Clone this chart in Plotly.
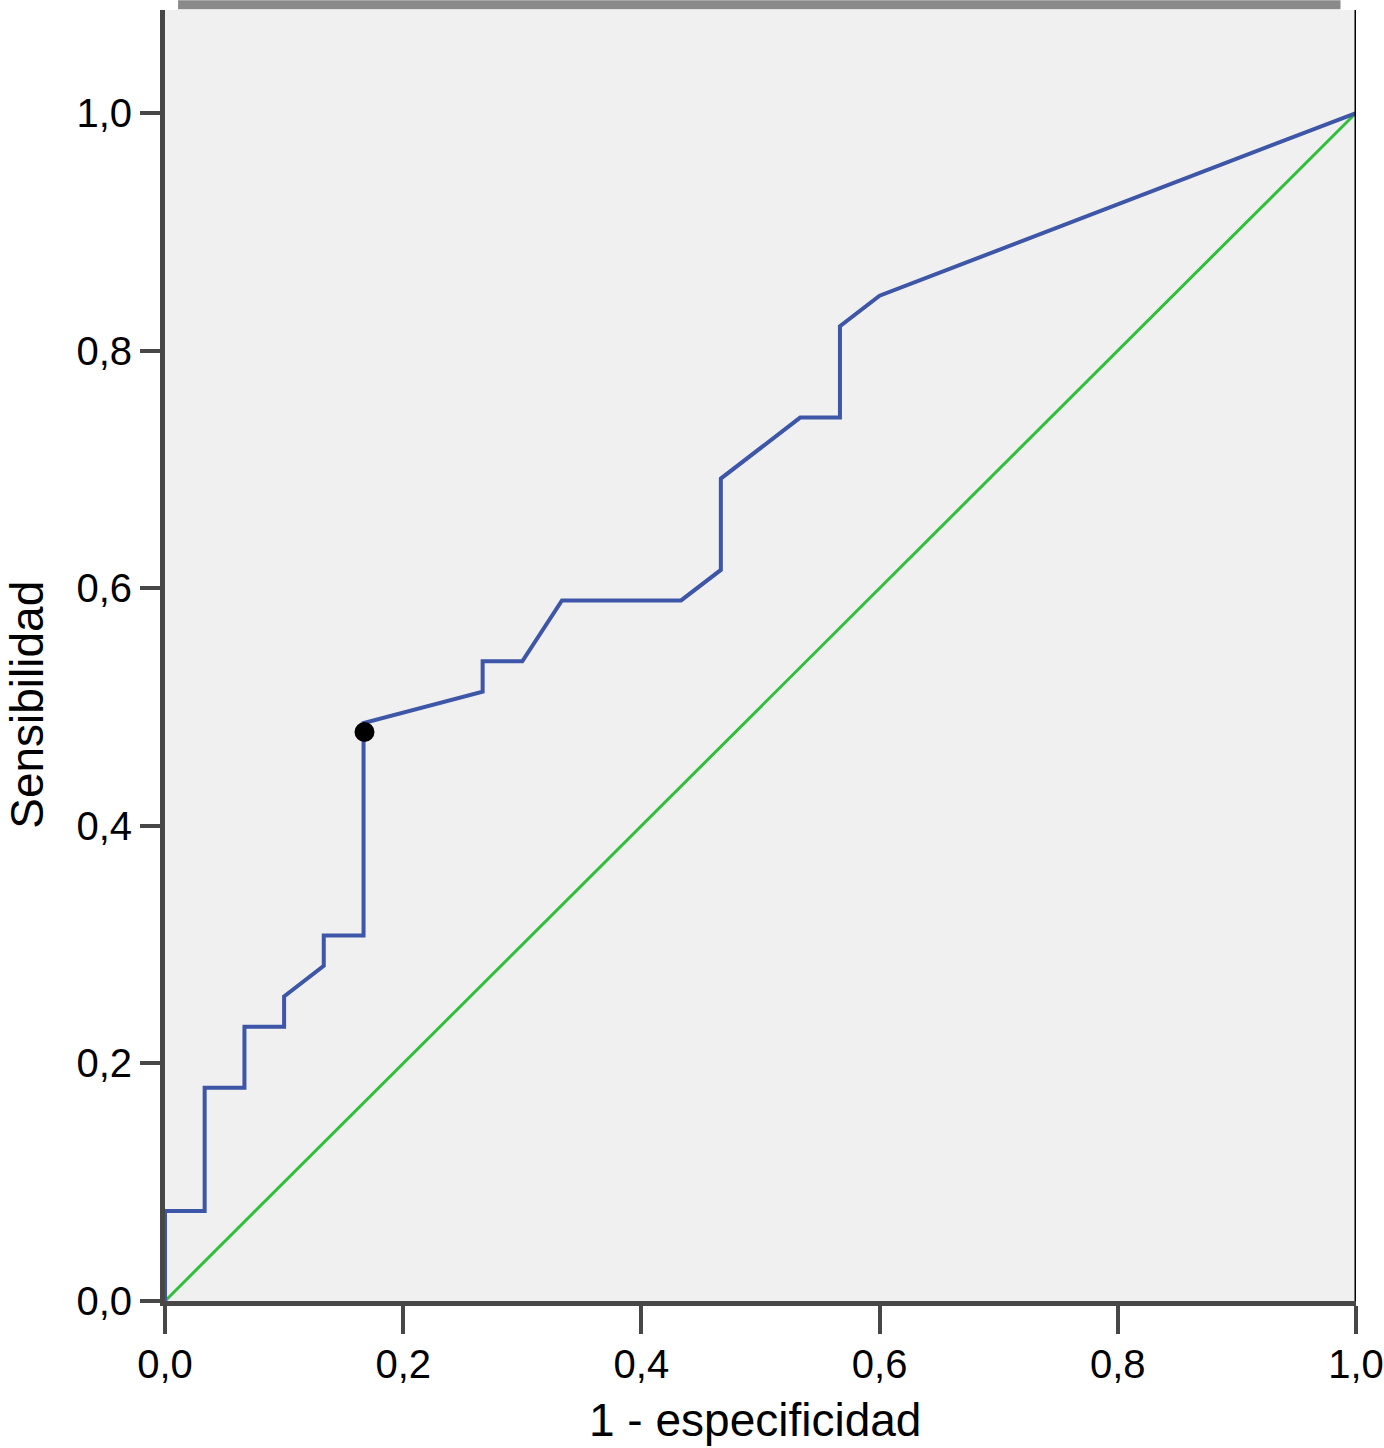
import plotly.graph_objects as go

# ROC curve points (1 - especificidad, sensibilidad)
roc_fpr = [0.0, 0.0, 0.0333, 0.0333, 0.0667, 0.0667, 0.1, 0.1, 0.1333, 0.1333,
           0.1667, 0.1667, 0.2667, 0.2667, 0.3, 0.3333, 0.4333, 0.4667, 0.4667,
           0.5333, 0.5667, 0.5667, 0.6, 1.0]
roc_tpr = [0.0, 0.0758, 0.0758, 0.1795, 0.1795, 0.2308, 0.2308, 0.2564, 0.2821, 0.3077,
           0.3077, 0.4865, 0.5128, 0.5385, 0.5385, 0.5897, 0.5897, 0.6154, 0.6923,
           0.7436, 0.7436, 0.8205, 0.8462, 1.0]

# Reference diagonal
ref_x = [0.0, 1.0]
ref_y = [0.0, 1.0]

# Optimal cut-off point
cut_x = [0.1675]
cut_y = [0.479]

tick_vals = [0.0, 0.2, 0.4, 0.6, 0.8, 1.0]

fig = go.Figure()
fig.add_trace(go.Scatter(x=ref_x, y=ref_y, mode="lines",
                         line=dict(color="#2fbf3a", width=3), showlegend=False))
fig.add_trace(go.Scatter(x=roc_fpr, y=roc_tpr, mode="lines",
                         line=dict(color="#3d56a8", width=4), showlegend=False))
fig.add_trace(go.Scatter(x=cut_x, y=cut_y, mode="markers",
                         marker=dict(color="black", size=20), showlegend=False))

font_family = "Liberation Sans, Arial, Helvetica, sans-serif"

fig.update_layout(
    width=1384, height=1448,
    autosize=False,
    margin=dict(l=165, r=28, t=10, b=147, autoexpand=False),
    paper_bgcolor="white",
    plot_bgcolor="#f0f0f0",
    separators=",.",
    font=dict(family=font_family, size=40, color="black"),
    xaxis=dict(range=[0, 1], tickvals=tick_vals, tickformat=".1f",
               automargin=False,
               showgrid=False, zeroline=False, showline=True,
               linecolor="#474747", linewidth=5,
               ticks="outside", ticklen=28, tickwidth=4, tickcolor="#474747",
               ticklabelstandoff=-4,
               tickfont=dict(size=40)),
    yaxis=dict(range=[0, 1.0867], tickvals=tick_vals, tickformat=".1f",
               automargin=False,
               showgrid=False, zeroline=False, showline=True,
               linecolor="#474747", linewidth=5,
               ticks="outside", ticklen=20, tickwidth=4, tickcolor="#474747",
               tickfont=dict(size=40)),
    shapes=[
        dict(type="line", xref="x", yref="paper", x0=1, x1=1, y0=0, y1=1,
             line=dict(color="black", width=3)),
        dict(type="rect", xref="paper", yref="paper", x0=0.011, x1=0.987,
             y0=1.0005, y1=1.0075, fillcolor="#8a8a8a", line=dict(width=0)),
    ],
    annotations=[
        dict(text="1 - especificidad", xref="paper", yref="paper",
             x=0.495, y=-0.092, xanchor="center", yanchor="middle",
             showarrow=False, font=dict(size=46)),
        dict(text="Sensibilidad", xref="paper", yref="paper",
             x=-0.116, y=0.4617, xanchor="center", yanchor="middle",
             textangle=-90, showarrow=False, font=dict(size=46)),
    ],
)

fig.write_html("out.html",
               config={"displayModeBar": False},
               post_script="document.body.style.margin='0';document.body.style.overflow='hidden';")
